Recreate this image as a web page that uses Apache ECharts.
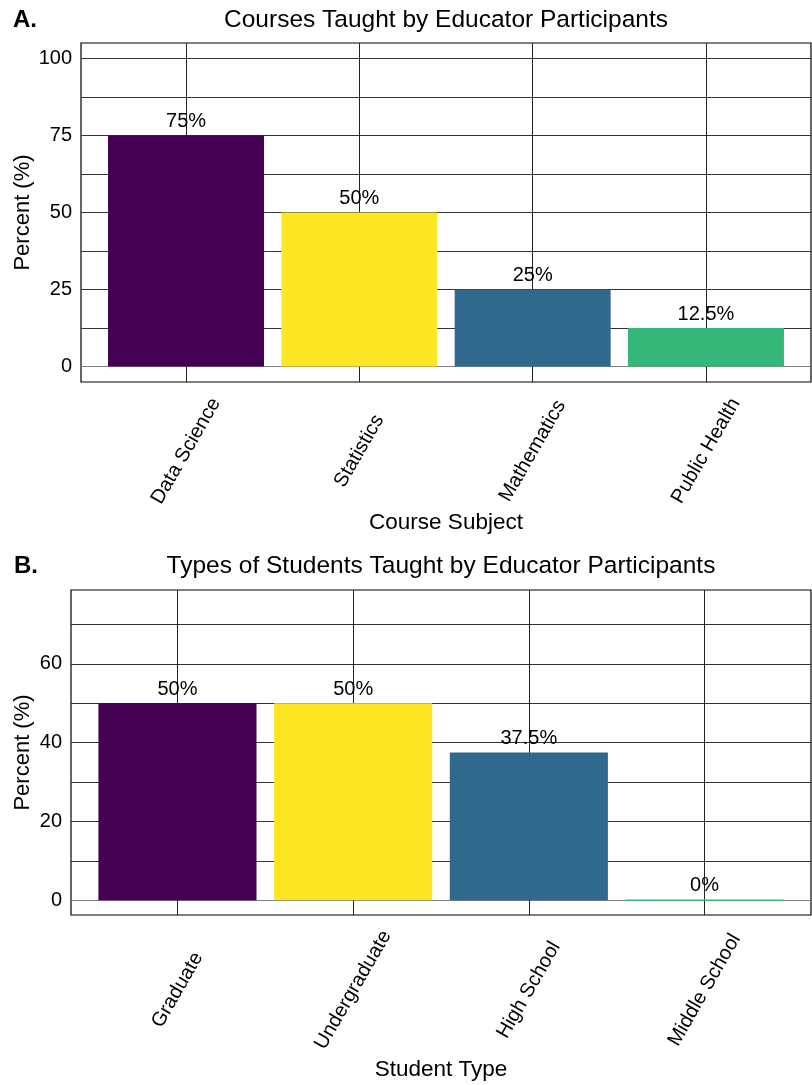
<!DOCTYPE html>
<html>
<head>
<meta charset="utf-8">
<script src="https://cdn.jsdelivr.net/npm/echarts@6/dist/echarts.min.js"></script>
<style>
  html, body { margin: 0; padding: 0; background: #fff; }
  #chart { width: 812px; height: 1085px; }
</style>
</head>
<body>
<div id="chart"></div>
<script>
// Panel A: courses taught
const courseCategories = ['Data Science', 'Statistics', 'Mathematics', 'Public Health'];
const courseValues = [75, 50, 25, 12.5];
const courseLabels = ['75%', '50%', '25%', '12.5%'];
const courseTicks = [0, 25, 50, 75, 100];
const courseGrid = [12.5, 25, 37.5, 50, 62.5, 75, 87.5, 100];

// Panel B: student types
const studentCategories = ['Graduate', 'Undergraduate', 'High School', 'Middle School'];
const studentValues = [50, 50, 37.5, 0];
const studentLabels = ['50%', '50%', '37.5%', '0%'];
const studentTicks = [0, 20, 40, 60];
const studentGrid = [10, 20, 30, 40, 50, 60, 70];

const palette = ['#440154', '#fde725', '#31688e', '#35b779'];
const FONT = '"Liberation Sans", Arial, Helvetica, sans-serif';

const chart = echarts.init(document.getElementById('chart'), null, { renderer: 'canvas' });

function barData(values) {
  return values.map((v, i) => ({
    value: [i, v],
    itemStyle: {
      color: palette[i],
      borderColor: palette[i],
      borderWidth: v === 0 ? 1 : 0
    }
  }));
}

function xAxisFor(gridIndex, cats, name, margin, nameGap) {
  const idx = cats.map((_, i) => i);
  return {
    gridIndex, type: 'value', min: -0.606, max: 3.606,
    name, nameLocation: 'middle', nameGap, nameMoveOverlap: false,
    nameTextStyle: { fontFamily: FONT, fontSize: 22.5, color: '#000', verticalAlign: 'middle' },
    axisLine: { show: false },
    axisTick: { show: true, customValues: idx, length: 6, lineStyle: { color: '#444' } },
    axisLabel: {
      customValues: idx, rotate: 60, align: 'center', verticalAlign: 'middle', margin,
      fontFamily: FONT, fontSize: 20, color: '#000',
      formatter: v => cats[Math.round(v)]
    },
    splitLine: { show: false }
  };
}

function yAxisFor(gridIndex, min, max, ticks, nameGap) {
  return {
    gridIndex, type: 'value', min, max,
    name: 'Percent (%)', nameLocation: 'middle', nameGap, nameMoveOverlap: false,
    nameTextStyle: { fontFamily: FONT, fontSize: 22, color: '#000' },
    axisLine: { show: false },
    axisTick: { show: true, customValues: ticks, length: 5, lineStyle: { color: '#555' } },
    axisLabel: { customValues: ticks, margin: 9, fontFamily: FONT, fontSize: 20, color: '#000' },
    splitLine: { show: false }
  };
}

function gridLines(cats, levels) {
  const data = [];
  levels.forEach(v => data.push({ yAxis: v, lineStyle: { color: '#333', width: 1, type: 'solid' } }));
  data.push({ yAxis: 0, lineStyle: { color: '#808080', width: 1.2, type: 'solid' } });
  cats.forEach((_, i) => data.push({ xAxis: i, lineStyle: { color: '#222', width: 1, type: 'solid' } }));
  return {
    silent: true, symbol: ['none', 'none'], z: 1,
    label: { show: false }, emphasis: { disabled: true },
    data
  };
}

function barSeries(xi, values, labels, cats, levels) {
  return {
    type: 'bar', xAxisIndex: xi, yAxisIndex: xi, z: 3,
    barWidth: '90%',
    data: barData(values),
    label: {
      show: true, position: 'top', distance: 4,
      fontFamily: FONT, fontSize: 20, color: '#000',
      formatter: p => labels[p.dataIndex]
    },
    markLine: gridLines(cats, levels),
    animation: false
  };
}

const panelTag = { fontFamily: FONT, fontSize: 24, fontWeight: 'bold', color: '#000' };
const panelTitle = { fontFamily: FONT, fontSize: 24.5, fontWeight: 'normal', color: '#000' };

chart.setOption({
  animation: false,
  backgroundColor: '#fff',
  title: [
    { text: 'A.', left: 13, top: 8, padding: 0, textStyle: panelTag },
    { text: 'Courses Taught by Educator Participants', left: 446, top: 8, padding: 0,
      textAlign: 'center', textStyle: panelTitle },
    { text: 'B.', left: 14, top: 554, padding: 0, textStyle: panelTag },
    { text: 'Types of Students Taught by Educator Participants', left: 441, top: 554, padding: 0,
      textAlign: 'center', textStyle: panelTitle }
  ],
  grid: [
    { left: 81, right: 1, top: 43, height: 339, show: true, borderColor: '#000', borderWidth: 1.2,
      backgroundColor: 'transparent', containLabel: false, outerBoundsMode: 'none' },
    { left: 71, right: 1, top: 590, height: 325, show: true, borderColor: '#000', borderWidth: 1.2,
      backgroundColor: 'transparent', containLabel: false, outerBoundsMode: 'none' }
  ],
  xAxis: [
    xAxisFor(0, courseCategories, 'Course Subject', 69, 141),
    xAxisFor(1, studentCategories, 'Student Type', 75, 155)
  ],
  yAxis: [
    yAxisFor(0, -5, 105, courseTicks, 47),
    yAxisFor(1, -3.75, 78.75, studentTicks, 37)
  ],
  series: [
    barSeries(0, courseValues, courseLabels, courseCategories, courseGrid),
    barSeries(1, studentValues, studentLabels, studentCategories, studentGrid)
  ]
});
</script>
</body>
</html>
